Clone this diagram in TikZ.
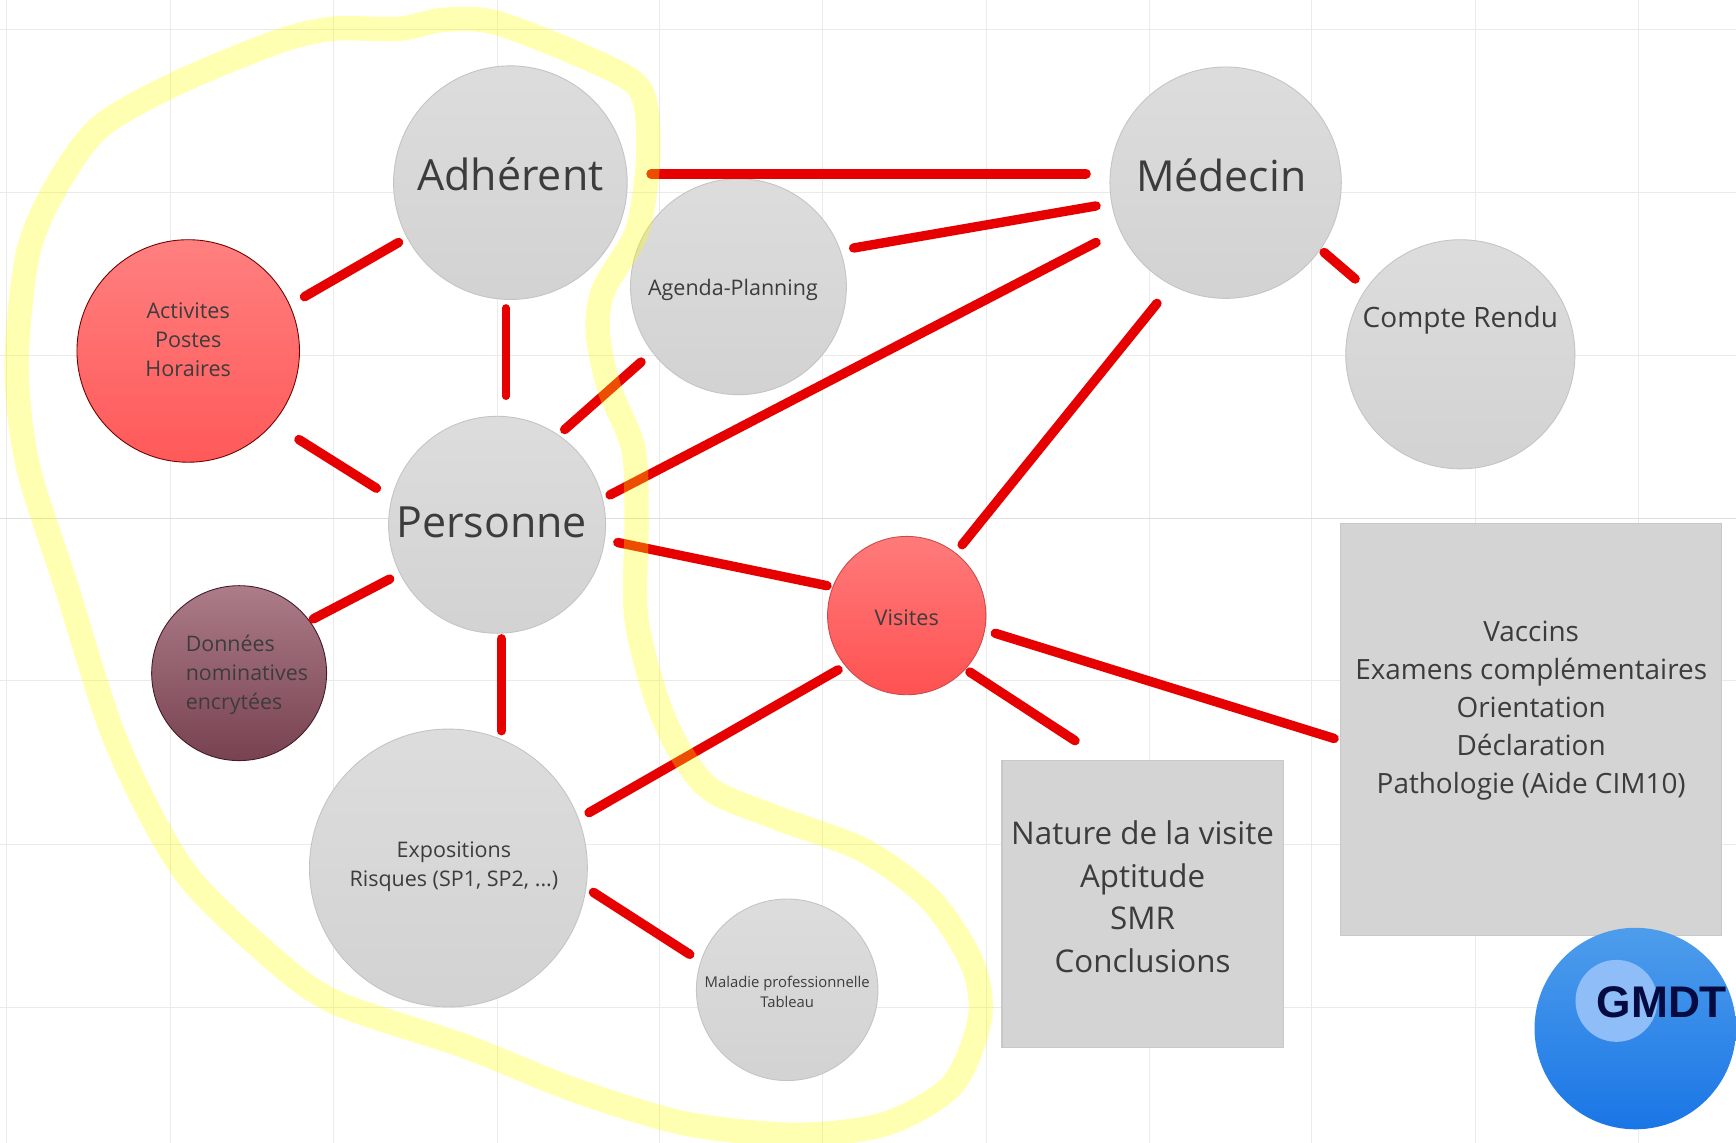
\documentclass[tikz,border=0pt]{standalone}
\usepackage{fontspec}
\setmainfont{Open Sans}
\newfontfamily\gmdtfont{Liberation Sans}
\newcommand{\fs}[2]{\fontsize{#1}{#2}\selectfont}
\definecolor{gridc}{HTML}{EAEAEA}
\definecolor{gridd}{HTML}{DEDEDE}
\definecolor{txtc}{HTML}{3C3C3C}
\definecolor{redl}{HTML}{E60000}
\tikzset{
  grey/.style={circle,inner sep=0pt,top color=black!13.5,bottom color=black!17.5,draw=black!23,line width=.8pt},
  redball/.style={circle,inner sep=0pt,top color=red!50,bottom color=red!65,draw=red!45!black,line width=.8pt},
  visball/.style={circle,inner sep=0pt,top color=red!52,bottom color=red!68,draw=red!70!black!70,line width=.8pt},
  maroon/.style={circle,inner sep=0pt,top color={rgb,255:red,172;green,124;blue,136},bottom color={rgb,255:red,120;green,66;blue,80},draw={rgb,255:red,70;green,25;blue,40},line width=.8pt},
  blueball/.style={circle,inner sep=0pt,top color={rgb,255:red,78;green,157;blue,236},bottom color={rgb,255:red,26;green,118;blue,230}},
  hilite/.style={circle,inner sep=0pt,fill={rgb,255:red,142;green,189;blue,247}},
  greybox/.style={rectangle,inner sep=0pt,fill={rgb,255:red,213;green,212;blue,212},draw={rgb,255:red,200;green,200;blue,200},line width=1pt},
  txt/.style={text=txtc,align=center,inner sep=0pt},
  conn/.style={draw=redl,line width=8.5pt,line cap=round},
  thinconn/.style={draw=redl,line width=6.5pt,line cap=round},
  marker/.style={draw={rgb,255:red,255;green,255;blue,0},opacity=.3,line width=22pt,line join=round,line cap=round},
  gridline/.style={draw=gridc,line width=.9pt},
}
\begin{document}
\begin{tikzpicture}[x=1pt,y=-1pt]
\useasboundingbox (0,0) rectangle (1568,1032);
\fill[white] (0,0) rectangle (1568,1032);
% background grid
\foreach \gx in {6,154,301,449,596,743,891,1038,1185,1333,1480}
  \draw[gridline] (\gx,0) -- (\gx,1032);
\foreach \gy in {27,174,321,615,763,910}
  \draw[gridline] (0,\gy) -- (1568,\gy);
\draw[draw=gridd,line width=1.1pt] (0,468) -- (1568,468);
% nodes
\node[grey,minimum size=211pt,label={[txt,font=\fs{38.8}{48},yshift=8pt]center:Adhérent}] (adh) at (461,165) {};
\node[grey,minimum size=209pt,label={[txt,font=\fs{38.6}{48},xshift=-4pt,yshift=7pt]center:Médecin}] (med) at (1107,165) {};
\node[grey,minimum size=195pt,label={[txt,font=\fs{19.4}{26},xshift=-5pt,yshift=-3pt]center:Agenda-Planning}] (agenda) at (667,259) {};
\node[grey,minimum size=207pt,label={[txt,font=\fs{25.3}{32},yshift=31pt]center:Compte Rendu}] (compte) at (1319,320) {};
\node[redball,minimum size=201pt,label={[txt,font=\fs{19.5}{26},yshift=10pt]center:{Activites\\Postes\\Horaires}}] (act) at (170,317) {};
\node[grey,minimum size=196pt,label={[txt,font=\fs{38.8}{48},xshift=-5pt,yshift=2pt]center:Personne}] (pers) at (449,474) {};
\node[visball,minimum size=143pt,label={[txt,font=\fs{19.5}{26},yshift=-1.5pt]center:Visites}] (vis) at (819,556) {};
\node[maroon,minimum size=158pt,label={[txt,align=left,font=\fs{19.3}{26},xshift=7pt,yshift=-1.5pt]center:{Données\\nominatives\\encrytées}}] (don) at (216,608) {};
\node[grey,minimum size=251pt,label={[txt,font=\fs{19.4}{26},xshift=5pt,yshift=1pt]center:{Expositions\\Risques (SP1, SP2, ...)}}] (expo) at (405,784) {};
\node[grey,minimum size=164pt,label={[txt,font=\fs{13.4}{18},yshift=-1.5pt]center:{Maladie professionnelle\\Tableau}}] (mal) at (711,894) {};
\node[greybox,minimum width=254pt,minimum height=259pt,label={[txt,font=\fs{28.3}{38.5},yshift=6.5pt]center:{Nature de la visite\\Aptitude\\SMR\\Conclusions}}] (nature) at (1032,816.5) {};
\node[greybox,minimum width=344pt,minimum height=372pt,label={[txt,font=\fs{25.2}{34.3},yshift=17pt]center:{Vaccins\\Examens complémentaires\\Orientation\\Déclaration\\Pathologie (Aide CIM10)}}] (vaccins) at (1383,659) {};
\node[blueball,minimum size=182pt] (gmdtball) at (1477,929) {};
\node[hilite,minimum size=74pt] (gmdthl) at (1460,904) {};
\node[inner sep=0pt,text={rgb,255:red,5;green,10;blue,64},font=\gmdtfont\bfseries\fs{40}{46}] (gmdt) at (1501,905) {GMDT};
% connectors
\draw[conn] ([shift={(127,-8)}]adh.center) -- ([shift={(-126,-8)}]med.center);
\draw[conn] ([shift={(104,-35)}]agenda.center) -- ([shift={(-117,21)}]med.center);
\draw[conn] ([shift={(102,-27)}]pers.center) -- ([shift={(-117,54)}]med.center);
\draw[conn] ([shift={(89,63)}]med.center) -- ([shift={(-95,-68)}]compte.center);
\draw[conn] ([shift={(-62,109)}]med.center) -- ([shift={(50,-64)}]vis.center);
\draw[conn] ([shift={(-101,54)}]adh.center) -- ([shift={(105,-49)}]act.center);
\draw[thinconn] ([shift={(-4,113)}]adh.center) -- ([shift={(8,-116)}]pers.center);
\draw[conn] ([shift={(100,80)}]act.center) -- ([shift={(-109,-33)}]pers.center);
\draw[conn] ([shift={(61,-86)}]pers.center) -- ([shift={(-88,68)}]agenda.center);
\draw[conn] ([shift={(109,16)}]pers.center) -- ([shift={(-72,-27)}]vis.center);
\draw[conn] ([shift={(-97,49)}]pers.center) -- ([shift={(67,-49)}]don.center);
\draw[conn] ([shift={(4,103)}]pers.center) -- ([shift={(48,-124)}]expo.center);
\draw[conn] ([shift={(-62,49)}]vis.center) -- ([shift={(127,-50)}]expo.center);
\draw[conn] ([shift={(57,51)}]vis.center) -- ([shift={(-61,-147.5)}]nature.center);
\draw[conn] ([shift={(80,16)}]vis.center) -- ([shift={(-178,8)}]vaccins.center);
\draw[conn] ([shift={(131,22)}]expo.center) -- ([shift={(-88,-32)}]mal.center);
% highlighter stroke
\draw[marker] plot[smooth cycle,tension=.5] coordinates {
 (361,26) (400,18) (446,20) (520,48) (572,74) (584,100) (585,150) (575,210) (545,262)
 (540,300) (550,350) (572,405) (575,470) (575,560) (600,650) (638,710) (700,738)
 (780,768) (840,812) (878,870) (885,920) (860,980) (800,1015) (720,1025) (620,1015)
 (520,985) (420,945) (302,905) (240,860) (165,785) (105,670) (60,530) (25,420)
 (15,330) (25,230) (50,170) (90,115) (160,75) (250,38) (300,26)};
\end{tikzpicture}
\end{document}
